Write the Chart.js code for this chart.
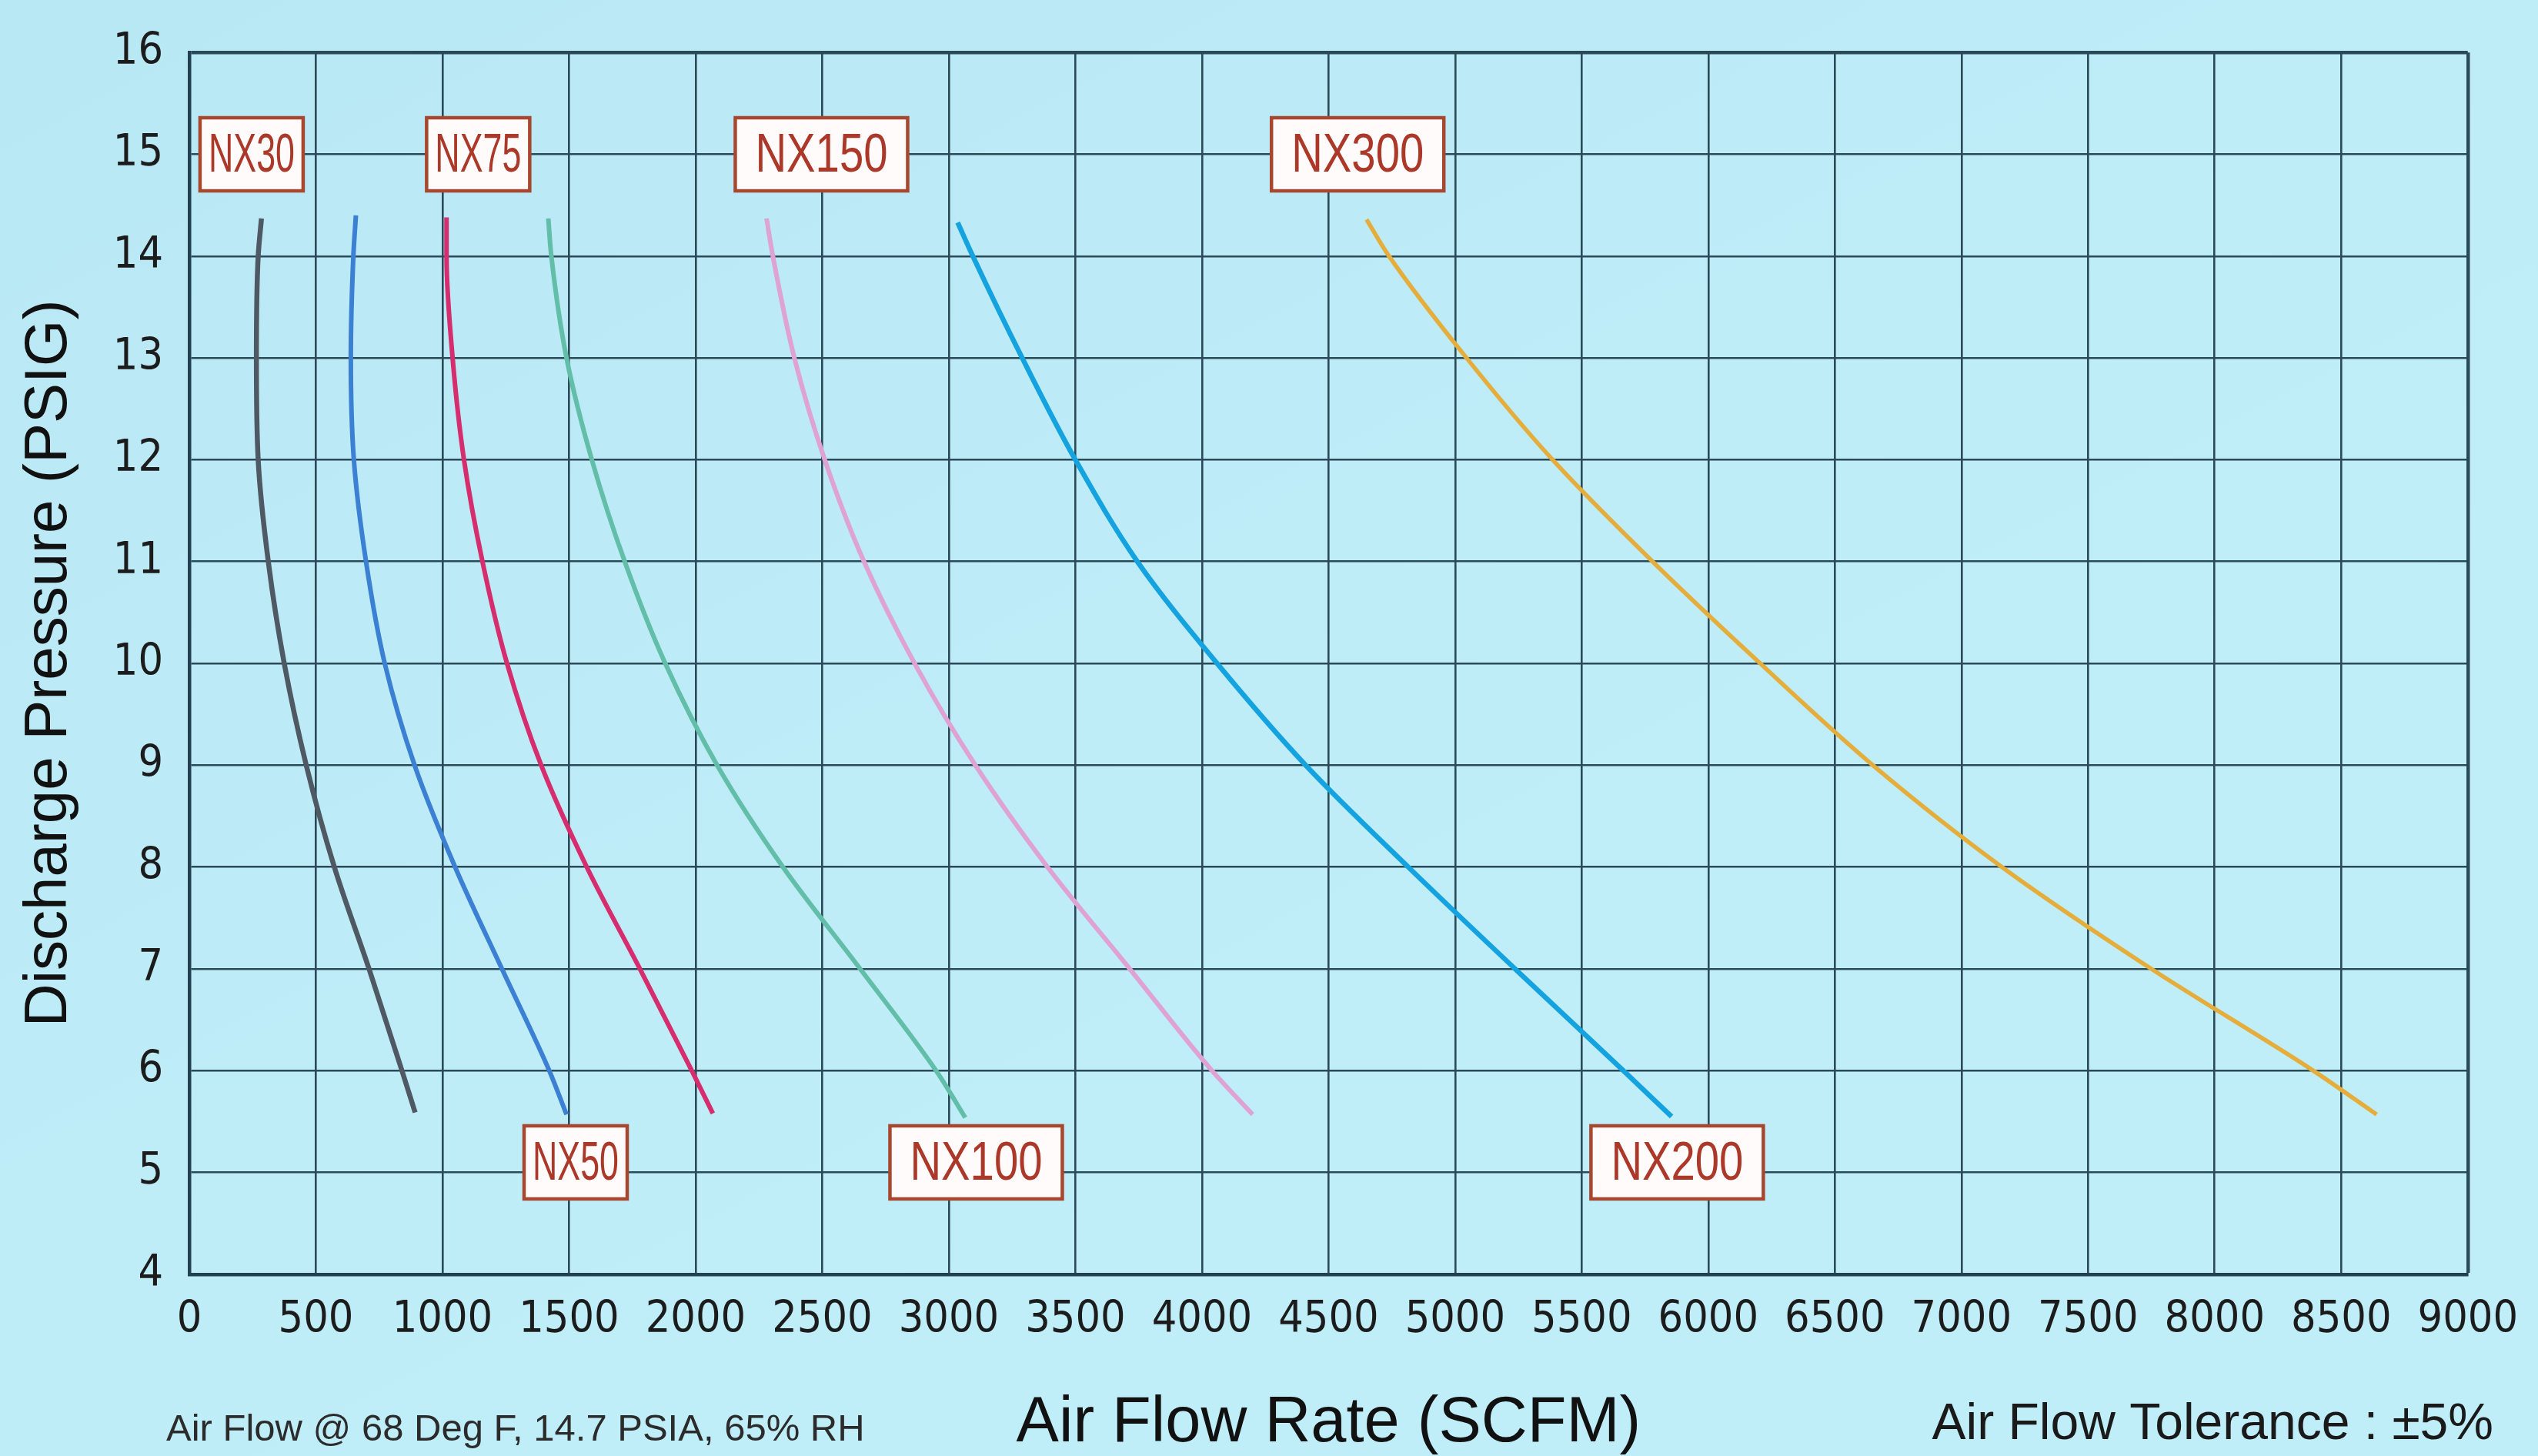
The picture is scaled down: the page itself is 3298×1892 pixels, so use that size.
<!DOCTYPE html>
<html>
<head>
<meta charset="utf-8">
<title>Discharge Pressure vs Air Flow Rate</title>
<script src="https://cdn.jsdelivr.net/npm/chart.js@4.4.1/dist/chart.umd.min.js"></script>
<style>
  html, body { margin: 0; padding: 0; background: #bdebf6; }
  #wrap { width: 3298px; height: 1892px; position: relative; }
  canvas { display: block; }
</style>
</head>
<body>
<div id="wrap"><canvas id="chart" width="3298" height="1892"></canvas></div>
<script>
// Axis ranges and tick steps
const flowMin = 0, flowMax = 9000, flowStep = 500;
const psigMin = 4, psigMax = 16, psigStep = 1;

// Blower curves: air flow (SCFM) and discharge pressure (PSIG)
const nx30Flow  = [285, 272, 265, 272, 312, 375, 462, 573, 710, 840, 892];
const nx30Psig  = [14.37, 14, 13, 12, 11, 10, 9, 8, 7, 6, 5.59];

const nx50Flow  = [658, 648, 638, 650, 698, 772, 890, 1050, 1235, 1422, 1490];
const nx50Psig  = [14.40, 14, 13, 12, 11, 10, 9, 8, 7, 6, 5.57];

const nx75Flow  = [1016, 1016, 1040, 1085, 1158, 1255, 1390, 1570, 1780, 1985, 2068];
const nx75Psig  = [14.38, 14, 13, 12, 11, 10, 9, 8, 7, 6, 5.58];

const nx100Flow = [1418, 1430, 1490, 1590, 1720, 1880, 2085, 2345, 2650, 2950, 3065];
const nx100Psig = [14.37, 14, 13, 12, 11, 10, 9, 8, 7, 6, 5.54];

const nx150Flow = [2280, 2305, 2390, 2510, 2665, 2865, 3105, 3390, 3715, 4040, 4200];
const nx150Psig = [14.37, 14, 13, 12, 11, 10, 9, 8, 7, 6, 5.57];

const nx200Flow = [3035, 3095, 3290, 3500, 3745, 4060, 4410, 4815, 5237, 5665, 5855];
const nx200Psig = [14.33, 14, 13, 12, 11, 10, 9, 8, 7, 6, 5.55];

const nx300Flow = [4650, 4739, 5045, 5385, 5780, 6205, 6650, 7160, 7750, 8390, 8640];
const nx300Psig = [14.36, 14, 13, 12, 11, 10, 9, 8, 7, 6, 5.57];

// Model tags and where they sit on the grid
const tagNames    = ['NX30', 'NX75', 'NX150', 'NX300', 'NX50', 'NX100', 'NX200'];
const tagFlow     = [246, 1141, 2497, 4615, 1526, 3108, 5877];
const tagPressure = [15.0, 15.0, 15.0, 15.0, 5.1, 5.1, 5.1];

const footLeft  = 'Air Flow @ 68 Deg F, 14.7 PSIA, 65% RH';
const footRight = 'Air Flow Tolerance : \u00B15%';

const SANS   = '"Liberation Sans", Arial, Helvetica, sans-serif';
const NARROW = '"Liberation Sans Narrow", "Arial Narrow", "DejaVu Sans Condensed", sans-serif';

const toPoints = (xs, ys) => xs.map((v, i) => ({ x: v, y: ys[i] }));

function curve(label, xs, ys, color, width) {
  return {
    label,
    data: toPoints(xs, ys),
    borderColor: color,
    backgroundColor: color,
    borderWidth: width,
    pointRadius: 0,
    fill: false,
    cubicInterpolationMode: 'monotone',
    borderCapStyle: 'butt'
  };
}

const datasets = [
  curve('NX30',  nx30Flow,  nx30Psig,  '#4e5964', 6.5),
  curve('NX50',  nx50Flow,  nx50Psig,  '#3c80d4', 6),
  curve('NX75',  nx75Flow,  nx75Psig,  '#d52d6d', 6),
  curve('NX100', nx100Flow, nx100Psig, '#62bea8', 6),
  curve('NX150', nx150Flow, nx150Psig, '#dea2d3', 6),
  curve('NX200', nx200Flow, nx200Psig, '#15a3e0', 6.5),
  curve('NX300', nx300Flow, nx300Psig, '#e4ad3c', 5.5)
];

// Page background
const paper = {
  id: 'paper',
  beforeDraw(chart) {
    const { ctx, width, height } = chart;
    ctx.save();
    const g = ctx.createLinearGradient(0, 0, width * 0.3, height);
    g.addColorStop(0, '#b9e8f5');
    g.addColorStop(1, '#c0eef8');
    ctx.fillStyle = g;
    ctx.fillRect(0, 0, width, height);
    ctx.restore();
  }
};

// Boxed model tags
const modelTags = {
  id: 'modelTags',
  afterDatasetsDraw(chart) {
    const { ctx, scales: { x, y } } = chart;
    tagNames.forEach((name, i) => {
      const cx = x.getPixelForValue(tagFlow[i]);
      const cy = y.getPixelForValue(tagPressure[i]);
      const long = name.length > 4;
      const w = long ? 224 : 134;
      const h = 95;
      ctx.save();
      ctx.fillStyle = '#fffbfa';
      ctx.fillRect(cx - w / 2, cy - h / 2, w, h);
      ctx.lineWidth = 4.5;
      ctx.strokeStyle = '#a8472f';
      ctx.strokeRect(cx - w / 2, cy - h / 2, w, h);
      ctx.font = '70px ' + SANS;
      const tw = ctx.measureText(name).width;
      const target = long ? 172 : 112;
      ctx.translate(cx, cy + 3);
      ctx.scale(target / tw, 1);
      ctx.textAlign = 'center';
      ctx.textBaseline = 'middle';
      ctx.fillStyle = '#ab3829';
      ctx.fillText(name, 0, 0);
      ctx.restore();
    });
  }
};

// Notes printed beneath the axis
const footnotes = {
  id: 'footnotes',
  afterDraw(chart) {
    const { ctx } = chart;
    ctx.save();
    ctx.fillStyle = '#2b2b2b';
    ctx.textBaseline = 'alphabetic';
    ctx.font = '49px ' + SANS;
    ctx.textAlign = 'left';
    ctx.fillText(footLeft, 216, 1872);
    ctx.font = '66px ' + SANS;
    ctx.textAlign = 'right';
    ctx.fillStyle = '#1a1a1a';
    ctx.fillText(footRight, 3240, 1870);
    ctx.restore();
  }
};

const gridColor = '#2a4a58';

new Chart(document.getElementById('chart'), {
  type: 'line',
  data: { datasets },
  plugins: [paper, modelTags, footnotes],
  options: {
    indexAxis: 'y',
    responsive: false,
    animation: false,
    events: [],
    layout: { autoPadding: false, padding: { left: 0, top: 64, right: 49, bottom: 0 } },
    plugins: { legend: { display: false }, tooltip: { enabled: false } },
    scales: {
      x: {
        type: 'linear',
        position: 'bottom',
        min: flowMin, max: flowMax,
        afterFit(scale) { scale.height = 236; },
        ticks: {
          stepSize: flowStep,
          autoSkip: false,
          maxRotation: 0,
          padding: 26,
          color: '#1c1c1c',
          font: { family: NARROW, size: 57 },
          callback: v => String(v)
        },
        grid: {
          color: gridColor,
          lineWidth: c => (c.tick && c.tick.value === flowMax ? 4.5 : 2.6),
          drawTicks: false
        },
        border: { display: true, color: '#22404d', width: 4.5 },
        title: {
          display: true,
          text: 'Air Flow Rate (SCFM)',
          color: '#111',
          font: { family: SANS, size: 83, lineHeight: 1 },
          padding: { top: 0, bottom: 0 }
        }
      },
      y: {
        type: 'linear',
        position: 'left',
        min: psigMin, max: psigMax,
        afterFit(scale) { scale.width = 246; },
        ticks: {
          stepSize: psigStep,
          padding: 34,
          color: '#1c1c1c',
          font: { family: NARROW, size: 57 },
          callback: v => String(v)
        },
        grid: {
          color: gridColor,
          lineWidth: c => (c.tick && c.tick.value === psigMax ? 4.5 : 2.6),
          drawTicks: false
        },
        border: { display: true, color: '#22404d', width: 4.5 },
        title: {
          display: true,
          text: 'Discharge Pressure (PSIG)',
          color: '#111',
          font: { family: SANS, size: 78, lineHeight: 1.2 },
          padding: { top: 18, bottom: 0 }
        }
      }
    }
  }
});
</script>
</body>
</html>
